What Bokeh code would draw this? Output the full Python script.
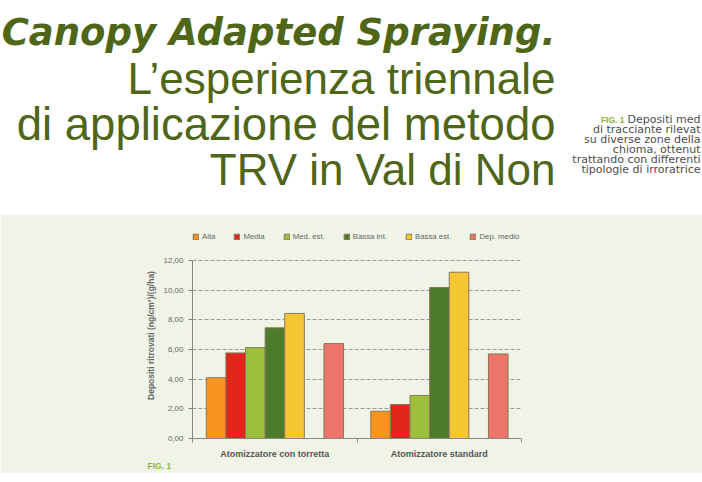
from bokeh.plotting import figure
from bokeh.models import (Range1d, FixedTicker, CustomJSTickFormatter, Legend, LegendItem,
                          Label, Title, ColumnDataSource)
from bokeh.layouts import column
from bokeh.embed import file_html
from bokeh.resources import INLINE

# ---------------- data ----------------
groups = ["Atomizzatore con torretta", "Atomizzatore standard"]
series = ["Alta", "Media", "Med. est.", "Bassa int.", "Bassa est.", "Dep. medio"]
slots = [0, 1, 2, 3, 4, 6]  # position of each series inside a group (slot 5 left empty)
values = {
    "Alta":       [4.10, 1.84],
    "Media":      [5.77, 2.29],
    "Med. est.":  [6.13, 2.90],
    "Bassa int.": [7.46, 10.18],
    "Bassa est.": [8.43, 11.21],
    "Dep. medio": [6.40, 5.70],
}
colors = ["#f7931e", "#e2261c", "#9cbf3c", "#4b7b2b", "#f5c631", "#ec7469"]
y_ticks = [0, 2, 4, 6, 8, 10, 12]

title_lines = ["Canopy Adapted Spraying.", "L\u2019esperienza triennale",
               "di applicazione del metodo", "TRV in Val di Non"]
caption_lines = ["Depositi med", "di tracciante rilevat", "su diverse zone della",
                 "chioma, ottenut", "trattando con differenti", "tipologie di irroratrice"]

TITLE_COLOR = "#4f6517"
PANEL = "#f0f4e7"
GREEN_FIG = "#8cb33f"

# ---------------- top (title) ----------------
top = figure(width=702, height=214, output_backend="svg", toolbar_location=None,
             x_range=Range1d(0, 702), y_range=Range1d(214, 0),
             min_border=0, outline_line_color=None)
top.frame_align = False
top.axis.visible = False
top.grid.visible = False
top.background_fill_color = "white"
top.border_fill_color = "white"

top.add_layout(Label(x=555, y=32, text=title_lines[0], text_align="right",
                     text_baseline="alphabetic", text_font="DejaVu Sans",
                     text_font_style="bold italic", text_font_size="37px",
                     text_color=TITLE_COLOR))
for yb, t, fs in zip([78, 124, 169], title_lines[1:], ["44px", "45.5px", "44px"]):
    top.add_layout(Label(x=555, y=yb, text=t, text_align="right",
                         text_baseline="alphabetic", text_font="Liberation Sans",
                         text_font_size=fs, text_color=TITLE_COLOR))

cap_y = [119, 129, 139, 149, 159, 169]
for yc, t in zip(cap_y, caption_lines):
    top.add_layout(Label(x=700, y=yc, text=t, text_align="right", text_baseline="middle",
                         text_font="DejaVu Sans", text_font_size="11px",
                         text_color="#4d4d4d"))
top.add_layout(Label(x=624, y=cap_y[0], text="FIG. 1", text_align="right",
                     text_baseline="middle", text_font="Liberation Sans",
                     text_font_style="bold", text_font_size="8.5px", text_color=GREEN_FIG))

# ---------------- chart ----------------
group_w = 1.0
bar_w = 0.1192
pad = 0.0839
px_per_unit = 14.833          # vertical scale of the original chart
frame_top_extra = (438 - 232) / px_per_unit   # frame reaches up to the legend row

p = figure(width=702, height=259, output_backend="svg", toolbar_location=None,
           x_range=Range1d(0, 2), y_range=Range1d(0, frame_top_extra),
           min_border_left=192, min_border_right=181, min_border_top=18,
           min_border_bottom=35, outline_line_color=None, title=None)
p.frame_align = False
p.background_fill_color = PANEL
p.border_fill_color = PANEL

items = []
for s, slot, c in zip(series, slots, colors):
    xs = [gi * group_w + pad + (slot + 0.5) * bar_w for gi in range(len(groups))]
    src = ColumnDataSource(dict(x=xs, top=values[s]))
    r = p.vbar(x="x", top="top", width=bar_w, bottom=0, source=src,
               fill_color=c, line_color="#8a7858", line_width=1)
    items.append(LegendItem(label=s, renderers=[r]))

legend = Legend(items=items, orientation="horizontal", location="top_left",
                label_text_font="Liberation Sans", label_text_font_size="7.8px",
                label_text_color="#666666", glyph_width=7, glyph_height=7,
                label_standoff=3, spacing=18, padding=1, margin=0,
                background_fill_alpha=0, border_line_color=None,
                label_height=9, label_width=0, label_text_baseline="middle")
p.add_layout(legend)

# axes
p.xaxis.ticker = FixedTicker(ticks=[0.5, 1.5], minor_ticks=[0, 1, 2])
p.xaxis.major_label_overrides = {0.5: groups[0], 1.5: groups[1]}
p.xaxis.major_tick_out = 0
p.xaxis.major_tick_in = 0
p.xaxis.minor_tick_out = 4
p.xaxis.minor_tick_in = 0
p.xaxis.minor_tick_line_color = "#888888"
p.xaxis.axis_line_color = "#888888"
p.xaxis.major_label_text_font = "Liberation Sans"
p.xaxis.major_label_text_font_style = "bold"
p.xaxis.major_label_text_font_size = "9px"
p.xaxis.major_label_text_color = "#555555"
p.xaxis.major_label_standoff = 6

p.yaxis.ticker = FixedTicker(ticks=y_ticks)
p.yaxis.bounds = (0, 12)
p.yaxis.formatter = CustomJSTickFormatter(code="return tick.toFixed(2).replace('.', ',');")
p.yaxis.major_tick_out = 4
p.yaxis.major_tick_in = 0
p.yaxis.minor_tick_line_color = None
p.yaxis.axis_line_color = "#888888"
p.yaxis.major_tick_line_color = "#888888"
p.yaxis.major_label_text_font = "Liberation Sans"
p.yaxis.major_label_text_font_size = "8px"
p.yaxis.major_label_text_color = "#666666"
p.yaxis.major_label_standoff = 5
p.yaxis.axis_label = "Depositi ritrovati (ng/cm\u00b2)/(g/ha)"
p.yaxis.axis_label_text_font = "Liberation Sans"
p.yaxis.axis_label_text_font_style = "bold"
p.yaxis.axis_label_text_font_size = "8.5px"
p.yaxis.axis_label_text_color = "#666666"
p.yaxis.axis_label_standoff = 4

p.xgrid.visible = False
p.ygrid.grid_line_color = "#9a9a9a"
p.ygrid.grid_line_dash = "4 2"
p.ygrid.grid_line_width = 1

p.add_layout(Title(text="FIG. 1", align="left", offset=-45, standoff=-6,
                   text_font="Liberation Sans", text_font_style="bold",
                   text_font_size="8.5px", text_color=GREEN_FIG), "below")

layout = column(top, p, spacing=0)
open("out.html", "w").write(file_html(layout, INLINE))
